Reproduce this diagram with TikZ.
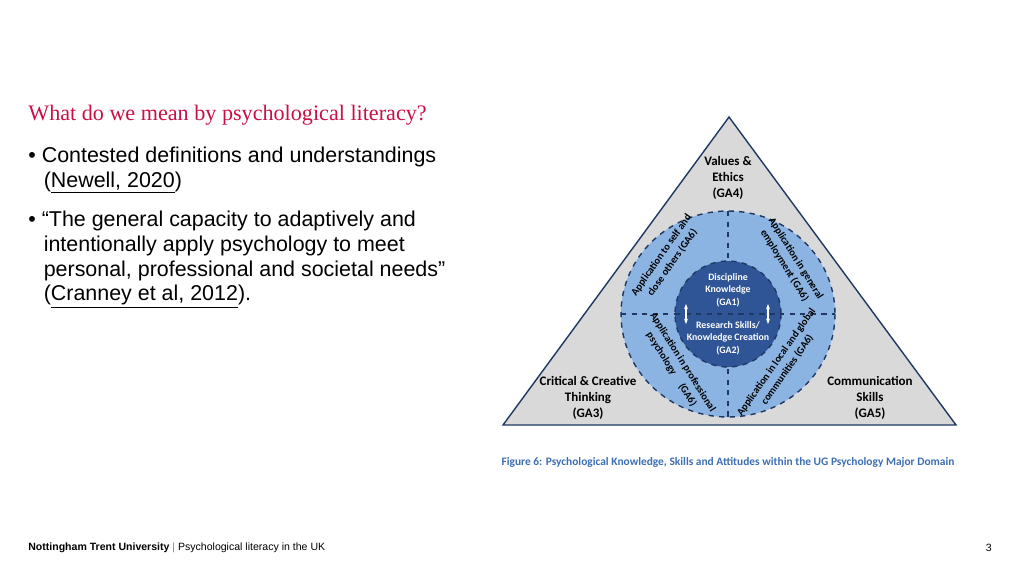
\documentclass[tikz,border=0pt]{standalone}
\usepackage{fontspec}
\setmainfont{Liberation Sans}
\newfontfamily\calfont{Carlito}
\newfontfamily\titlefont{Liberation Serif}
\usetikzlibrary{arrows.meta}
\definecolor{titlered}{RGB}{200,16,70}
\definecolor{ringblue}{RGB}{140,180,226}
\definecolor{coreblue}{RGB}{47,85,151}
\definecolor{edgeblue}{RGB}{31,56,100}
\definecolor{trigray}{RGB}{217,217,217}
\definecolor{capblue}{RGB}{60,110,180}
\tikzset{
  bullet/.style={anchor=north west, align=left, font=\fontsize{12.2}{14}\selectfont, inner sep=0pt},
  corner/.style={align=center, font=\calfont\bfseries\fontsize{7.4}{9}\selectfont, inner sep=0pt},
  ring/.style={align=center, font=\calfont\bfseries\fontsize{5.9}{7.6}\selectfont, inner sep=0pt},
  core/.style={align=center, text=white, font=\calfont\bfseries\fontsize{5.6}{7}\selectfont, inner sep=0pt},
}
\begin{document}
\begin{tikzpicture}[x=0.02cm, y=-0.02cm]
		\useasboundingbox (0,0) rectangle (1024,576);
		\coordinate (TOP) at (729,117);
		\coordinate (BL) at (503,425);
		\coordinate (BR) at (956,425);
		\coordinate (C) at (728,314);

		% slide text
		\node[anchor=west, inner sep=0pt, text=titlered, font=\titlefont\fontsize{12.6}{14}\selectfont] (title) at (28,115) {What do we mean by psychological literacy?};
		\node[bullet] (b1) at (28,147) {\textbullet\ Contested definitions and understandings\\\hspace*{0.72em}(\underline{Newell, 2020})};
		\node[bullet] (b2) at (28,211) {\textbullet\ ``The general capacity to adaptively and\\\hspace*{0.72em}intentionally apply psychology to meet\\\hspace*{0.72em}personal, professional and societal needs''\\\hspace*{0.72em}(\underline{Cranney et al, 2012}).};

		% triangle and circles
		\draw[edgeblue, fill=trigray, line width=0.8pt] (TOP) -- (BR) -- (BL) -- cycle;
		\draw[edgeblue, fill=ringblue, dashed, line width=0.8pt] (C) ellipse (107 and 103);
		\draw[edgeblue, dashed, line width=0.8pt] (621,314) -- (835,314);
		\draw[edgeblue, dashed, line width=0.8pt] (728,211) -- (728,417);
		\draw[edgeblue, fill=coreblue, dashed, line width=0.8pt] (C) circle (53);
		\draw[edgeblue, dashed, line width=0.8pt] (675,314) -- (781,314);
		\draw[white, {Stealth[length=3pt]}-{Stealth[length=3pt]}, line width=0.8pt] (686,304) -- (686,324);
		\draw[white, {Stealth[length=3pt]}-{Stealth[length=3pt]}, line width=0.8pt] (768,304) -- (768,324);

		\node[corner] (ga4) at (728,178) {Values \&\\Ethics\\(GA4)};
		\node[corner] (ga3) at (588,398) {Critical \& Creative\\Thinking\\(GA3)};
		\node[corner] (ga5) at (870,398) {Communication\\Skills\\(GA5)};
		\node[core] (ga1) at (728,290) {Discipline\\Knowledge\\(GA1)};
		\node[core] (ga2) at (728,338) {Research Skills/\\Knowledge Creation\\(GA2)};

		\node[ring, rotate=55] (q1) at (667,259) {Application to self and\\close others (GA6)};
		\node[ring, rotate=-58] (q2) at (790,262) {Application in general\\employment (GA6)};
		\node[ring, rotate=-58] (q3) at (677,366) {Application in professional\\psychology \hspace{1em}(GA6)};
		\node[ring, rotate=55] (q4) at (782,366) {Application in local and global\\communities (GA6)};

		\node[text=capblue, font=\calfont\bfseries\fontsize{6.5}{7}\selectfont] (cap) at (728,462) {Figure 6: Psychological Knowledge, Skills and Attitudes within the UG Psychology Major Domain};

		% footer
		\node[anchor=west, inner sep=0pt, font=\fontsize{6}{7}\selectfont] (foot) at (28,548) {\textbf{Nottingham Trent University} \textcolor{gray}{|} Psychological literacy in the UK};
		\node[anchor=east, font=\fontsize{6}{7}\selectfont] (page) at (998,548) {3};
	\end{tikzpicture}
\end{document}
